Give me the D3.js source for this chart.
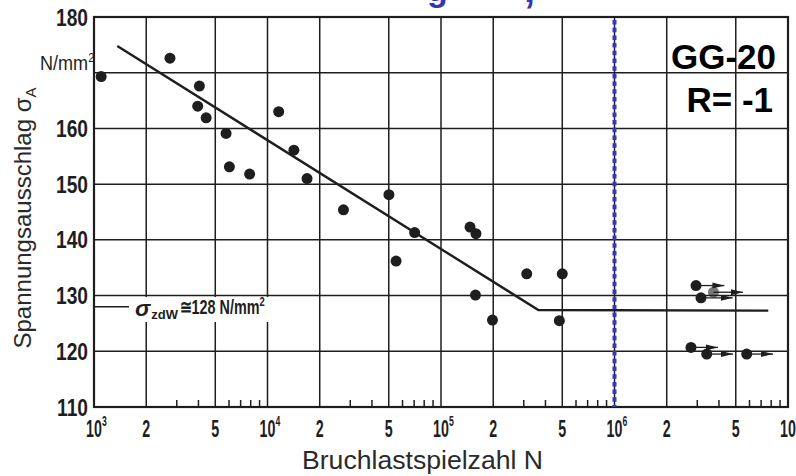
<!doctype html>
<html lang="de">
<head>
<meta charset="utf-8">
<title>Wöhlerlinie GG-20</title>
<script src="https://d3js.org/d3.v7.min.js"></script>
<style>
  body { margin: 0; background: #fff; }
  svg { display: block; font-family: "Liberation Sans", Arial, sans-serif; }
</style>
</head>
<body>
<svg id="chart" width="796" height="476"></svg>
<script>
// Bruchlastspielzahl N and Spannungsausschlag (N/mm2)
const brokenN = [1100, 2740, 4050, 3960, 4430, 5770, 6030, 7890, 11600, 14200, 16900,
                 27400, 50100, 55100, 70500, 147000, 159000, 158000, 198000, 312000, 481000, 500000];
const brokenS = [169.3, 172.6, 167.6, 164.0, 161.9, 159.1, 153.1, 151.8, 163.0, 156.1, 151.0,
                 145.4, 148.1, 136.2, 141.3, 142.3, 141.1, 130.1, 125.6, 133.9, 125.5, 133.9];

// Durchläufer (run-outs) with the arrow end
const runoutN = [2950000, 3150000, 3720000, 2760000, 3400000, 5780000];
const runoutS = [131.8, 129.6, 130.6, 120.7, 119.5, 119.5];
const runoutArrowN = [4300000, 4800000, 5500000, 3950000, 4820000, 8200000];

// Wöhlerlinie: sloped part, knee, endurance limit
const curveN = [1362, 364000, 7700000];
const curveS = [174.8, 127.4, 127.3];

const enduranceLabel = 128;
const markerN = 1e6;

const yTicks = [110, 120, 130, 140, 150, 160, 170, 180];
const yLabels = [110, 120, 130, 140, 150, 160, 180];   // 170 is where the unit sits
const xMajor = [1e3, 2e3, 5e3, 1e4, 2e4, 5e4, 1e5, 2e5, 5e5, 1e6, 2e6, 5e6, 1e7];
const xMinorMult = [3, 4, 6, 7, 8, 9];
const decades = [1e3, 1e4, 1e5, 1e6];

const svg = d3.select('#chart');
const m = {left: 94, right: 788, top: 17, bottom: 407};

const x = d3.scaleLog().domain([1e3, 1e7]).range([m.left, m.right]);
const y = d3.scaleLinear().domain([110, 180]).range([m.bottom, m.top]);

const ink = '#1e1e1e';
const expo = d => Math.floor(Math.log10(d) + 1e-9);

// cut-off blue slide title
svg.append('text').attr('x', 427).attr('y', 1).attr('fill', '#3434b4')
    .attr('font-weight', 'bold').attr('font-size', 34).text('g');
svg.append('text').attr('x', 524).attr('y', 2).attr('fill', '#3434b4')
    .attr('font-weight', 'bold').attr('font-size', 40).text(',');

// grid
const grid = svg.append('g').attr('stroke', ink).attr('stroke-width', 1.5);
grid.selectAll('line.h')
    .data(yTicks.filter(d => d > 110 && d < 180))
    .join('line').attr('class', 'h')
    .attr('x1', m.left).attr('x2', m.right)
    .attr('y1', d => y(d)).attr('y2', d => y(d));
grid.selectAll('line.v')
    .data(xMajor.filter(d => d > 1e3 && d < 1e7))
    .join('line').attr('class', 'v')
    .attr('y1', m.top).attr('y2', m.bottom)
    .attr('x1', d => x(d)).attr('x2', d => x(d));

// minor ticks on the bottom axis
const minors = [];
decades.forEach(d => xMinorMult.forEach(k => minors.push(d * k)));
grid.selectAll('line.mi')
    .data(minors)
    .join('line').attr('class', 'mi')
    .attr('y1', m.bottom).attr('y2', m.bottom - 7)
    .attr('x1', d => x(d)).attr('x2', d => x(d));

// frame
svg.append('rect')
    .attr('x', m.left).attr('y', m.top)
    .attr('width', m.right - m.left).attr('height', m.bottom - m.top)
    .attr('fill', 'none').attr('stroke', ink).attr('stroke-width', 2.2);

// label for the endurance limit, with white box hiding grid
const lab = svg.append('g');
lab.append('rect').attr('x', 132).attr('y', 297).attr('width', 143).attr('height', 25).attr('fill', '#fff');
lab.append('line')
    .attr('x1', m.left).attr('x2', 129)
    .attr('y1', y(enduranceLabel)).attr('y2', y(enduranceLabel))
    .attr('stroke', ink).attr('stroke-width', 1.5);
const sig = lab.append('text').attr('x', 135).attr('y', 316).attr('fill', ink).attr('font-weight', 'bold');
sig.append('tspan').attr('font-size', 23).attr('font-style', 'italic').text('σ');
sig.append('tspan').attr('font-size', 13).attr('dy', 3).attr('dx', 1).text('zdW');
const lt = lab.append('g').attr('transform', 'translate(180,314) scale(0.72,1)')
    .append('text').attr('fill', ink).attr('font-size', 20).attr('font-weight', 'bold');
lt.append('tspan').text('≅' + enduranceLabel + ' N/mm');
lt.append('tspan').attr('font-size', 13).attr('dy', -8).text('2');

// blue marker at 10^6
svg.append('line')
    .attr('x1', x(markerN)).attr('x2', x(markerN))
    .attr('y1', m.top + 3).attr('y2', m.bottom)
    .attr('stroke', '#3636be').attr('stroke-width', 4)
    .attr('stroke-dasharray', '4.5,3.2');

// Wöhler line
svg.append('path')
    .datum(curveN.map((n, i) => [n, curveS[i]]))
    .attr('d', d3.line().x(d => x(d[0])).y(d => y(d[1])))
    .attr('fill', 'none').attr('stroke', ink).attr('stroke-width', 2.4);

// arrows for run-outs
svg.append('defs').append('marker')
    .attr('id', 'head').attr('viewBox', '0 0 12 8')
    .attr('refX', 12).attr('refY', 4)
    .attr('markerWidth', 12).attr('markerHeight', 8)
    .attr('markerUnits', 'userSpaceOnUse').attr('orient', 'auto')
    .append('path').attr('d', 'M0,1 L12,4 L0,7 Z').attr('fill', ink);

svg.selectAll('line.arrow')
    .data(runoutN.map((n, i) => i))
    .join('line').attr('class', 'arrow')
    .attr('x1', i => x(runoutN[i])).attr('x2', i => x(runoutArrowN[i]))
    .attr('y1', i => y(runoutS[i])).attr('y2', i => y(runoutS[i]))
    .attr('stroke', ink).attr('stroke-width', 1.3)
    .attr('marker-end', 'url(#head)');

// points
svg.selectAll('circle.broken')
    .data(brokenN.map((n, i) => [n, brokenS[i]]))
    .join('circle').attr('class', 'broken')
    .attr('cx', d => x(d[0])).attr('cy', d => y(d[1]))
    .attr('r', 5.5).attr('fill', ink);
svg.selectAll('circle.runout')
    .data(runoutN.map((n, i) => [n, runoutS[i]]))
    .join('circle').attr('class', 'runout')
    .attr('cx', d => x(d[0])).attr('cy', d => y(d[1]))
    .attr('r', 5.5).attr('fill', ink)
    .attr('fill-opacity', (d, i) => i === 2 ? 0.6 : 1);

// y tick labels
svg.selectAll('g.yl')
    .data(yLabels)
    .join('g').attr('class', 'yl')
    .attr('transform', d => `translate(88,${y(d) + 8.5}) scale(0.8,1)`)
    .append('text')
    .attr('text-anchor', 'end').attr('font-size', 24).attr('fill', ink)
    .attr('font-weight', 'bold')
    .text(d => d);

// unit
const unit = svg.append('g').attr('transform', 'translate(40,70) scale(0.86,1)')
    .append('text').attr('font-size', 21).attr('fill', ink);
unit.append('tspan').text('N/mm');
unit.append('tspan').attr('font-size', 13).attr('dy', -8).text('2');

// x tick labels
const xl = svg.selectAll('g.xl')
    .data(xMajor)
    .join('g').attr('class', 'xl')
    .attr('transform', d => `translate(${x(d)},437) scale(0.62,1)`);
xl.append('text')
    .attr('text-anchor', 'middle').attr('font-size', 23).attr('fill', ink)
    .attr('font-weight', 'bold')
    .text(d => d === Math.pow(10, expo(d)) ? '10' : String(Math.round(d / Math.pow(10, expo(d)))));
xl.filter(d => d === Math.pow(10, expo(d)))
    .append('text')
    .attr('x', 13).attr('y', -11)
    .attr('font-size', 14).attr('fill', ink).attr('font-weight', 'bold')
    .text(d => expo(d));

// axis titles
svg.append('text')
    .attr('x', 302).attr('y', 469)
    .attr('font-size', 25).attr('fill', '#2a2a2a')
    .attr('textLength', 241).attr('lengthAdjust', 'spacingAndGlyphs')
    .text('Bruchlastspielzahl  N');

const yt = svg.append('text')
    .attr('transform', 'translate(31,218) rotate(-90)')
    .attr('text-anchor', 'middle')
    .attr('font-size', 24).attr('fill', '#2a2a2a');
yt.append('tspan').text('Spannungsausschlag σ');
yt.append('tspan').attr('font-size', 15).attr('dy', 5).text('A');

// material note
const note = svg.append('g').attr('font-weight', 'bold').attr('fill', '#000')
    .attr('text-anchor', 'end').attr('font-size', 35);
note.append('text').attr('x', 776).attr('y', 69).text('GG-20');
note.append('text').attr('x', 773).attr('y', 112).text('R= -1');
</script>
</body>
</html>
